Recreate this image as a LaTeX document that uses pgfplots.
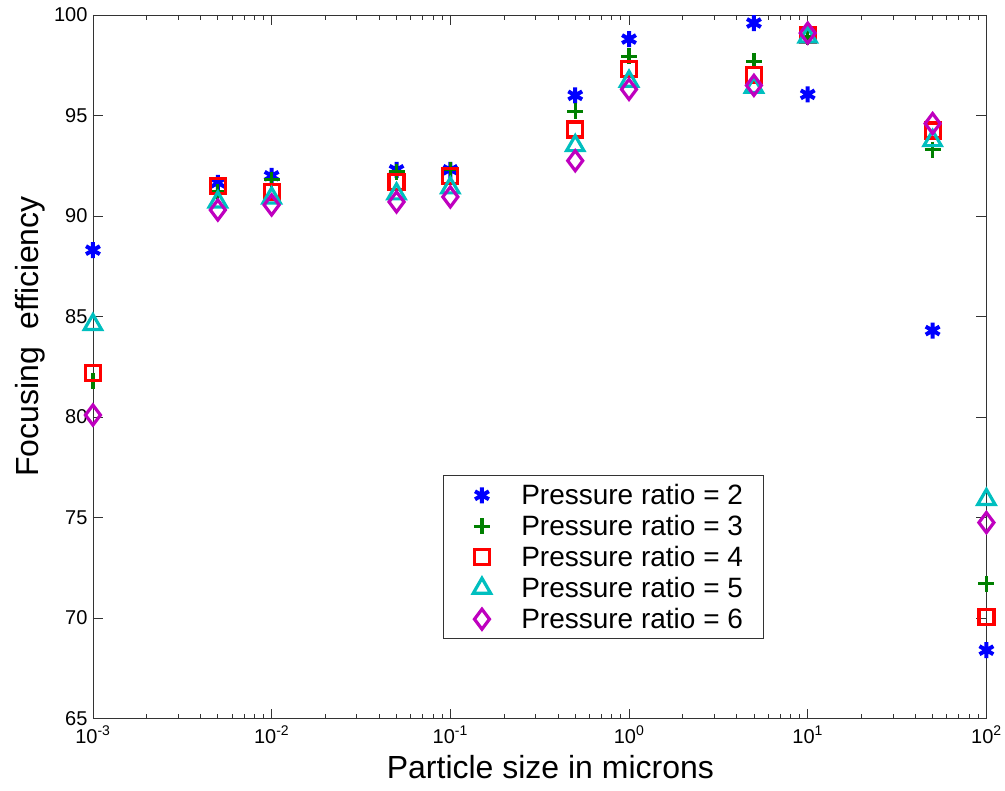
\documentclass[border=0pt]{standalone}
\usepackage{pgfplots}
\pgfplotsset{compat=1.18}
\usepackage{fontspec}
\setmainfont{Liberation Sans}

\definecolor{mblue}{RGB}{0,0,255}
\definecolor{mgreen}{RGB}{0,128,0}
\definecolor{mred}{RGB}{255,0,0}
\definecolor{mcyan}{RGB}{0,191,191}
\definecolor{mmag}{RGB}{191,0,191}

\begin{document}
\begin{tikzpicture}
\begin{semilogxaxis}[
    name=ax,
    scale only axis,
    width=894pt, height=704pt,
    xmin=1e-3, xmax=1e2,
    ymin=65, ymax=100,
    xtick={1e-3,1e-2,1e-1,1,1e1,1e2},
    xticklabels={10\textsuperscript{-3},10\textsuperscript{-2},10\textsuperscript{-1},10\textsuperscript{0},10\textsuperscript{1},10\textsuperscript{2}},
    ytick={65,70,75,80,85,90,95,100},
    /pgf/number format/assume math mode=true,
    tick label style={font=\fontsize{20}{24}\selectfont},
    xticklabel style={yshift=-4pt},
    yticklabel style={xshift=-2pt},
    major tick length=10pt,
    minor tick length=5pt,
    tick align=inside,
    every tick/.style={black!80, line width=0.8pt},
    axis line style={black!80, line width=0.8pt},
    xlabel={Particle size in microns},
    ylabel={Focusing~~efficiency},
    label style={font=\fontsize{32}{38}\selectfont},
    xlabel style={at={(ticklabel cs:0.512)}, yshift=-5pt},
    ylabel style={at={(ticklabel cs:0.543)}, yshift=2pt},
    every axis plot/.append style={only marks},
    legend style={
        at={(axis description cs:0.392,0.113)}, anchor=south west,
        draw=black!80, line width=0.8pt,
        font=\fontsize{28}{32}\selectfont,
        inner xsep=6pt, inner ysep=4pt,
        nodes={inner ysep=4.6pt},
    },
    legend cell align=left,
    legend image code/.code={\draw[#1] plot coordinates {(32pt,0pt)}; \path (0pt,0pt) (69pt,0pt);},
]
\addplot[mblue, mark=asterisk, mark size=8pt, mark options={line width=4pt}] coordinates {
    (0.001,88.3) (0.005,91.65) (0.01,92.0) (0.05,92.3) (0.1,92.3) (0.5,96.0)
    (1,98.8) (5,99.6) (10,96.05) (50,84.3) (100,68.4)
};
\addplot[mgreen, mark=+, mark size=8pt, mark options={line width=3.2pt}] coordinates {
    (0.001,81.8) (0.005,91.2) (0.01,91.8) (0.05,92.2) (0.1,92.3) (0.5,95.2)
    (1,97.95) (5,97.7) (10,98.9) (50,93.3) (100,71.7)
};
\addplot[mred, mark=square, mark size=7.5pt, mark options={line width=3.2pt}] coordinates {
    (0.001,82.2) (0.005,91.5) (0.01,91.2) (0.05,91.7) (0.1,92.0) (0.5,94.3)
    (1,97.3) (5,97.0) (10,99.0) (50,94.25) (100,70.05)
};
\addplot[mcyan, mark=triangle, mark size=10pt, mark options={line width=3.2pt}] coordinates {
    (0.001,84.6) (0.005,90.7) (0.01,90.9) (0.05,91.1) (0.1,91.4) (0.5,93.5)
    (1,96.7) (5,96.4) (10,98.9) (50,93.75) (100,75.9)
};
\addplot[mmag, mark=diamond, mark size=10pt, mark options={line width=3.2pt}] coordinates {
    (0.001,80.1) (0.005,90.3) (0.01,90.55) (0.05,90.7) (0.1,90.95) (0.5,92.75)
    (1,96.3) (5,96.5) (10,99.1) (50,94.6) (100,74.75)
};
\legend{Pressure ratio = 2\rule{12pt}{0pt}, Pressure ratio = 3\rule{12pt}{0pt}, Pressure ratio = 4\rule{12pt}{0pt}, Pressure ratio = 5\rule{12pt}{0pt}, Pressure ratio = 6\rule{12pt}{0pt}}
\end{semilogxaxis}
\path ([shift={(-93pt,-72pt)}]ax.south west) rectangle ([shift={(18pt,15pt)}]ax.north east);
\end{tikzpicture}
\end{document}
